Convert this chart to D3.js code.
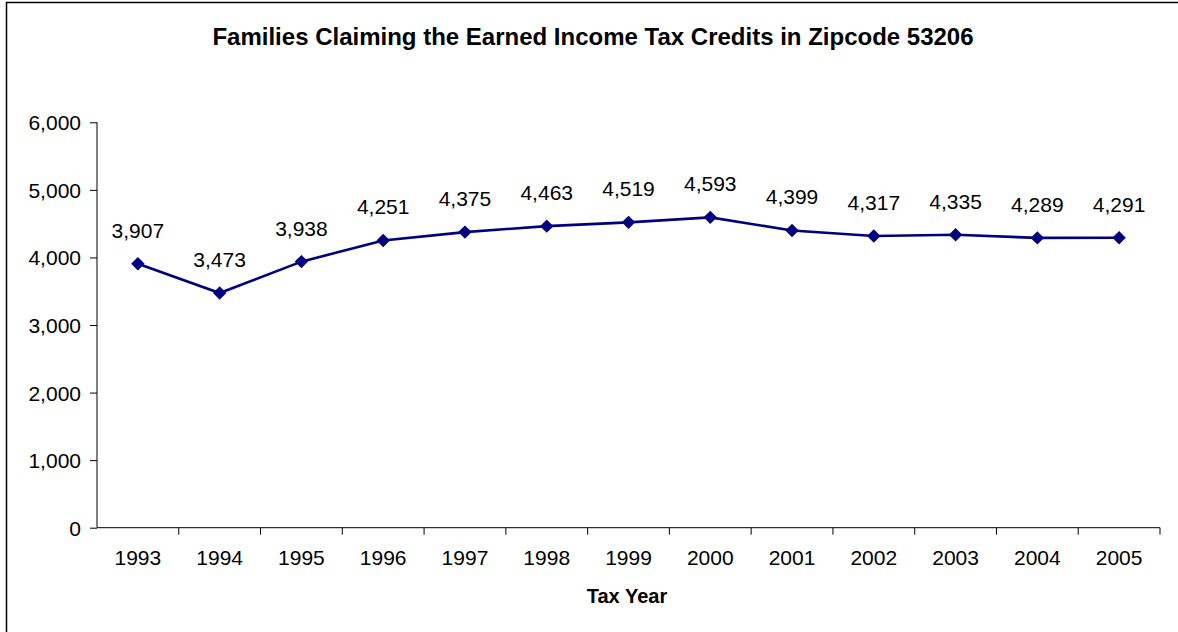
<!DOCTYPE html>
<html>
<head>
    <meta charset="utf-8">
    <title>EITC Zipcode 53206</title>
    <script src="https://cdnjs.cloudflare.com/ajax/libs/d3/7.8.5/d3.min.js"></script>
    <style>
        html, body { margin: 0; background: #fff; overflow: hidden; }
        svg { display: block; }
        text { font-family: "Liberation Sans", Arial, sans-serif; fill: #000; }
    </style>
</head>
<body>
<script type="text/javascript">
    var years = ["1993", "1994", "1995", "1996", "1997", "1998", "1999",
                 "2000", "2001", "2002", "2003", "2004", "2005"];
    var families = [3907, 3473, 3938, 4251, 4375, 4463, 4519,
                    4593, 4399, 4317, 4335, 4289, 4291];
    var yTicks = [0, 1000, 2000, 3000, 4000, 5000, 6000];

    var width = 1178,
        height = 632,
        plotLeft = 97,
        plotRight = 1160,
        plotTop = 122.3,
        plotBottom = 527.7;

    var x = d3.scaleBand()
        .domain(years)
        .range([plotLeft, plotRight]);

    var y = d3.scaleLinear()
        .domain([0, 6000])
        .range([plotBottom, plotTop]);

    var fmt = d3.format(",");

    var svg = d3.select("body").append("svg")
        .attr("width", width)
        .attr("height", height);

    // outer frame (right and bottom edges fall outside the picture)
    svg.append("rect")
        .attr("x", 6.5)
        .attr("y", 2.5)
        .attr("width", 1300)
        .attr("height", 800)
        .attr("fill", "none")
        .attr("stroke", "#000")
        .attr("stroke-width", 1.5);

    svg.append("text")
        .attr("x", 593)
        .attr("y", 45)
        .attr("text-anchor", "middle")
        .style("font-size", "24px")
        .style("font-weight", "bold")
        .text("Families Claiming the Earned Income Tax Credits in Zipcode 53206");

    // y axis
    var yAxis = d3.axisLeft(y)
        .tickValues(yTicks)
        .tickFormat(fmt)
        .tickSize(7)
        .tickPadding(9);

    var gy = svg.append("g")
        .attr("transform", "translate(" + plotLeft + ",0)")
        .call(yAxis);
    gy.select(".domain").attr("d", "M0," + plotTop + "V" + plotBottom).attr("stroke", "#000");
    gy.selectAll("line").attr("stroke", "#000");
    gy.selectAll("text")
        .style("font-size", "21px")
        .style("font-family", "'Liberation Sans', Arial, sans-serif")
        .attr("dy", "0.36em");

    // x axis: ticks sit on the band boundaries
    var gx = svg.append("g")
        .attr("transform", "translate(0," + plotBottom + ")");
    gx.append("path")
        .attr("d", "M" + plotLeft + ",0H" + plotRight)
        .attr("stroke", "#000")
        .attr("fill", "none");
    gx.selectAll("line.boundary")
        .data(years)
        .enter().append("line")
        .attr("class", "boundary")
        .attr("x1", function(d) { return x(d) + x.bandwidth(); })
        .attr("x2", function(d) { return x(d) + x.bandwidth(); })
        .attr("y1", 0)
        .attr("y2", 7)
        .attr("stroke", "#000");
    gx.selectAll("text.year")
        .data(years)
        .enter().append("text")
        .attr("class", "year")
        .attr("x", function(d) { return x(d) + x.bandwidth() / 2; })
        .attr("y", 37.5)
        .attr("text-anchor", "middle")
        .style("font-size", "21px")
        .text(function(d) { return d; });

    svg.append("text")
        .attr("x", 627)
        .attr("y", 603)
        .attr("text-anchor", "middle")
        .style("font-size", "20px")
        .style("font-weight", "bold")
        .text("Tax Year");

    var points = years.map(function(d, i) { return {year: d, value: families[i]}; });

    var line = d3.line()
        .x(function(d) { return x(d.year) + x.bandwidth() / 2; })
        .y(function(d) { return y(d.value); });

    svg.append("path")
        .datum(points)
        .attr("d", line)
        .attr("fill", "none")
        .attr("stroke", "#000080")
        .attr("stroke-width", 2.6);

    var diamond = d3.symbol().type(d3.symbolSquare).size(90);

    svg.append("g").selectAll("path")
        .data(points)
        .enter().append("path")
        .attr("d", diamond)
        .attr("fill", "#000080")
        .attr("transform", function(d) {
            return "translate(" + (x(d.year) + x.bandwidth() / 2) + "," + y(d.value) + ") rotate(45)";
        });

    svg.append("g").selectAll("text")
        .data(points)
        .enter().append("text")
        .attr("x", function(d) { return x(d.year) + x.bandwidth() / 2; })
        .attr("y", function(d) { return y(d.value) - 26; })
        .attr("text-anchor", "middle")
        .style("font-size", "21px")
        .text(function(d) { return fmt(d.value); });
</script>
</body>
</html>
